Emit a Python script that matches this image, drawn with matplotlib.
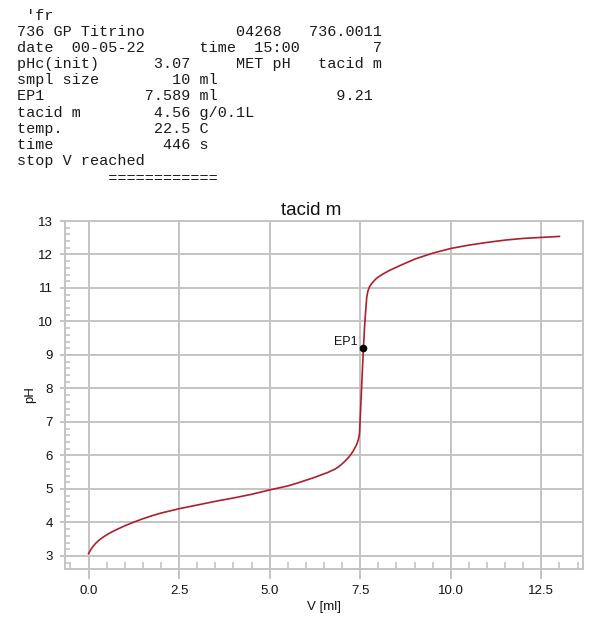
import matplotlib
matplotlib.use("Agg")
import matplotlib.pyplot as plt
from matplotlib.ticker import MultipleLocator, FormatStrFormatter

# report header (Titrino printout)
header_lines = [
    " 'fr",
    "736 GP Titrino          04268   736.0011",
    "date  00-05-22      time  15:00        7",
    "pHc(init)      3.07     MET pH   tacid m",
    "smpl size        10 ml",
    "EP1           7.589 ml             9.21",
    "tacid m        4.56 g/0.1L",
    "temp.          22.5 C",
    "time            446 s",
    "stop V reached",
]
underline = "          ============"

# titration curve
v_ml = [0.0, 0.03, 0.07, 0.12, 0.2, 0.3, 0.4, 0.5, 0.65, 0.8, 1.0, 1.25, 1.5,
        1.75, 2.0, 2.5, 3.0, 3.5, 4.0, 4.5, 5.0, 5.25, 5.5, 5.75, 6.0, 6.2,
        6.4, 6.6, 6.8, 6.9, 7.0, 7.1, 7.2, 7.3, 7.4, 7.45, 7.48, 7.52, 7.56,
        7.589, 7.62, 7.66, 7.68, 7.71, 7.75, 7.8, 7.87, 7.95, 8.1, 8.3, 8.6,
        9.0, 9.5, 10.0, 10.5, 11.0, 11.5, 12.0, 12.5, 13.0]
ph = [3.07, 3.13, 3.20, 3.28, 3.38, 3.48, 3.56, 3.63, 3.72, 3.80, 3.90, 4.01,
      4.11, 4.20, 4.28, 4.41, 4.52, 4.63, 4.73, 4.84, 4.97, 5.03, 5.09, 5.17,
      5.26, 5.33, 5.41, 5.49, 5.59, 5.66, 5.75, 5.85, 5.97, 6.12, 6.32, 6.48,
      6.65, 7.60, 8.55, 9.21, 9.85, 10.45, 10.72, 10.90, 11.02, 11.11, 11.20,
      11.29, 11.40, 11.52, 11.67, 11.86, 12.04, 12.18, 12.28, 12.36, 12.43,
      12.48, 12.51, 12.54]

ep_v = 7.589
ep_ph = 9.21

W, H = 600, 619
fig = plt.figure(figsize=(W / 100, H / 100), dpi=100)

# header text
for i, line in enumerate(header_lines):
    y = 20 if i == 0 else 36 + 16.1 * (i - 1)
    fig.text(17 / W, 1 - y / H, line, family="Liberation Mono", fontsize=10.9,
             color="#1a1a1a", va="baseline", ha="left")
fig.text(17 / W, 1 - 183 / H, underline, family="Liberation Mono", fontsize=10.9,
         color="#1a1a1a", va="baseline", ha="left")

# plot area
ax = fig.add_axes([65 / W, 1 - 569 / H, 518 / W, 348 / H])
grey = "#c4c4c4"

ax.plot(v_ml, ph, color="#b01e2b", lw=1.2, zorder=3)
ax.plot([ep_v], [ep_ph], "o", color="black", ms=4.5, zorder=4)
ax.annotate("EP1", (ep_v, ep_ph), xytext=(-4.5, 4.5), textcoords="offset points",
            ha="right", va="center", fontsize=9, family="Liberation Sans", color="#111111")

ax.set_xlim(-0.65, 13.65)
ax.set_ylim(2.61, 13.0)

ax.xaxis.set_major_locator(MultipleLocator(2.5))
ax.xaxis.set_major_formatter(FormatStrFormatter("%.1f"))
ax.xaxis.set_minor_locator(MultipleLocator(0.5))
ax.yaxis.set_major_locator(MultipleLocator(1))
ax.yaxis.set_minor_locator(MultipleLocator(0.2))

ax.grid(which="major", color=grey, lw=1.4, zorder=1)
for s in ax.spines.values():
    s.set_color(grey)
    s.set_linewidth(1.4)

ax.tick_params(axis="x", which="major", direction="out", length=7, width=1.4,
               color=grey, labelsize=9.5, labelcolor="#111111", pad=4.5)
ax.tick_params(axis="y", which="major", direction="out", length=3.6, width=1.4,
               color=grey, labelsize=9.5, labelcolor="#111111", pad=5)
ax.tick_params(axis="x", which="minor", direction="in", length=5, width=1.2, color=grey)
ax.tick_params(axis="y", which="minor", direction="in", length=3.8, width=1.2, color=grey)
for lab in ax.get_xticklabels() + ax.get_yticklabels():
    lab.set_family("Liberation Sans")

ax.set_xlabel("V [ml]", fontsize=9.5, family="Liberation Sans", color="#111111", labelpad=3)
ax.set_ylabel("pH", fontsize=9.5, family="Liberation Sans", color="#111111", labelpad=1.5)

fig.text(311 / W, 1 - 215 / H, "tacid m", fontsize=13.5, family="Liberation Sans",
         color="#111111", ha="center", va="baseline")

fig.savefig("out.png", dpi=100)
